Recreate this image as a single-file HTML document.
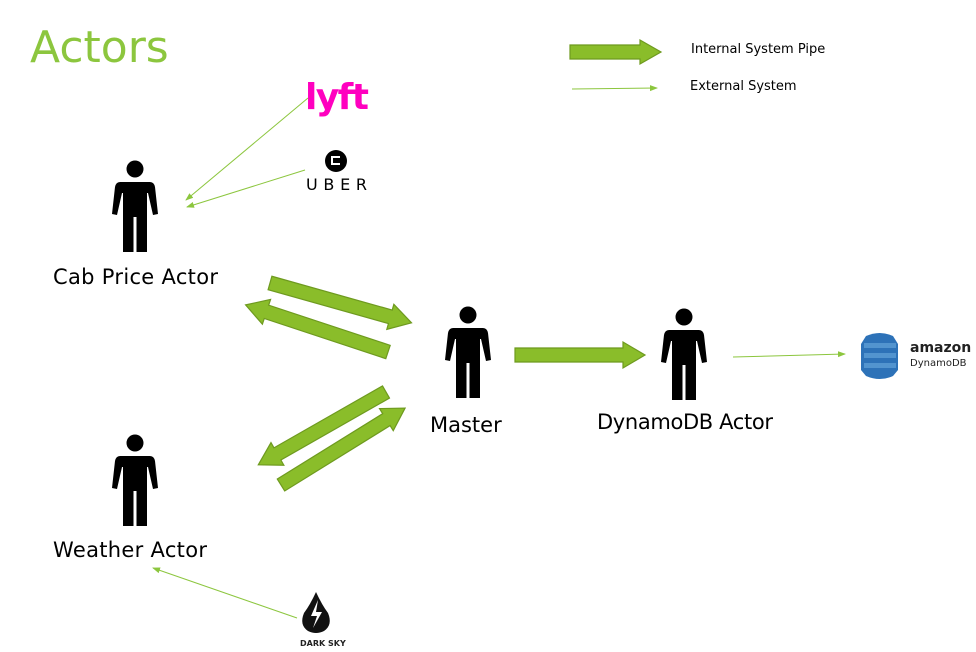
<!DOCTYPE html>
<html><head><meta charset="utf-8"><style>
body{margin:0;background:#fff;width:976px;height:652px;overflow:hidden}
svg{display:block}
text{font-family:"DejaVu Sans","Liberation Sans",sans-serif}
</style></head><body>
<svg width="976" height="652" viewBox="0 0 976 652" xmlns="http://www.w3.org/2000/svg">
<defs>
<g id="p">
<circle cx="0" cy="0" r="8.5" fill="#000"/>
<path d="M-15,13 L15,13 Q19,13 20,18 L23,45 L18,46 L13,24 L12,24 L12,83 L1.5,83 L1.5,48 L-1.5,48 L-1.5,83 L-12,83 L-12,24 L-13,24 L-18,46 L-23,45 L-20,18 Q-19,13 -15,13 Z" fill="#000"/>
</g>
<marker id="ah" markerWidth="8" markerHeight="8" refX="7" refY="4" orient="auto" markerUnits="userSpaceOnUse"><path d="M0,1 L8,4 L0,7 Z" fill="#8cc63e"/></marker>
</defs>
<text x="30" y="62" font-size="44" fill="#8cc63e" font-family="Liberation Sans">Actors</text>

<!-- legend -->
<g transform="translate(570,52)"><polygon points="0,-7 70,-7 70,-12 91,0 70,12 70,7 0,7" fill="#8abd2a" stroke="#6e9a1f" stroke-width="1.2"/></g>
<text x="691" y="53" font-size="13" fill="#000">Internal  System Pipe</text>
<line x1="572" y1="89" x2="657" y2="88" stroke="#8cc63e" stroke-width="1" marker-end="url(#ah)"/>
<text x="690" y="90" font-size="13" fill="#000">External System</text>

<!-- people -->
<use href="#p" transform="translate(135,169)"/>
<use href="#p" transform="translate(468,315)"/>
<use href="#p" transform="translate(684,317)"/>
<use href="#p" transform="translate(135,443)"/>

<text x="53" y="284" font-size="21" fill="#000" textLength="165">Cab Price Actor</text>
<text x="430" y="432" font-size="21" fill="#000">Master</text>
<text x="597" y="429" font-size="21" fill="#000" textLength="176">DynamoDB Actor</text>
<text x="53" y="557" font-size="21" fill="#000" textLength="154">Weather Actor</text>

<!-- fat arrows -->
<g fill="#8abd2a" stroke="#6e9a1f" stroke-width="1.2">
<polygon transform="translate(270,283) rotate(15.7)" points="0,-7 125,-7 125,-13 147,0 125,13 125,7 0,7"/>
<polygon transform="translate(388,352) rotate(198.3)" points="0,-7 128,-7 128,-13 150,0 128,13 128,7 0,7"/>
<polygon transform="translate(386,392) rotate(150.3)" points="0,-7 125,-7 125,-13 147,0 125,13 125,7 0,7"/>
<polygon transform="translate(281,485) rotate(-31.8)" points="0,-7 124,-7 124,-13 146,0 124,13 124,7 0,7"/>
<polygon transform="translate(515,355)" points="0,-7 108,-7 108,-13 130,0 108,13 108,7 0,7"/>
</g>

<!-- thin arrows -->
<g stroke="#8cc63e" stroke-width="1" fill="none" marker-end="url(#ah)">
<line x1="308" y1="98" x2="186" y2="200"/>
<line x1="305" y1="170" x2="187" y2="207"/>
<line x1="733" y1="357" x2="845" y2="354"/>
<line x1="297" y1="618" x2="153" y2="568"/>
</g>

<!-- lyft -->
<text x="305" y="109" font-size="36" font-weight="bold" fill="#ff00bf" font-family="Liberation Sans" letter-spacing="-2" textLength="62">lyft</text>
<!-- uber -->
<circle cx="336" cy="161" r="11" fill="#000"/>
<rect x="331" y="156" width="9" height="9" fill="#fff"/><rect x="333" y="158" width="7" height="5" fill="#000"/>
<text x="306" y="190" font-size="16" fill="#000" font-family="Liberation Sans" textLength="61">UBER</text>
<!-- dynamo logo -->
<g>
<path d="M866,336 Q880,330 893,336 L898,344 L898,370 L893,376 Q880,382 866,376 L861,370 L861,344 Z" fill="#2d72b8"/>
<rect x="864" y="343" width="32" height="5" fill="#5294cf"/>
<rect x="864" y="353" width="32" height="5" fill="#5294cf"/>
<rect x="864" y="363" width="32" height="5" fill="#5294cf"/>
</g>
<text x="910" y="352" font-size="14" font-weight="bold" fill="#222" font-family="Liberation Sans">amazon</text>
<text x="910" y="366" font-size="10" fill="#222" font-family="Liberation Sans">DynamoDB</text>
<!-- dark sky -->
<path d="M316,592 Q322,605 328,613 Q333,625 324,631 Q316,635 308,631 Q299,625 304,613 Q310,605 316,592 Z" fill="#111"/>
<path d="M318,600 L311,616 L317,616 L313,628 L322,612 L316,612 Z" fill="#fff"/>
<text x="300" y="646" font-size="8" font-weight="bold" fill="#222" font-family="Liberation Sans">DARK SKY</text>
</svg>
</body></html>
